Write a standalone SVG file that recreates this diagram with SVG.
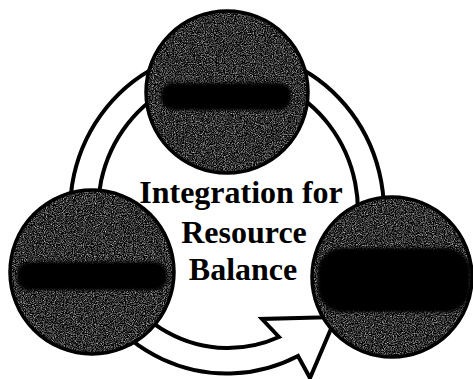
<svg xmlns="http://www.w3.org/2000/svg" width="473" height="379" viewBox="0 0 473 379">
  <defs>
    <style>
      .band { fill: #ffffff; stroke: #000000; stroke-width: 4; stroke-linejoin: miter; }
      .edge { fill: none; stroke: #000000; stroke-width: 3.5; }
      .core { fill: #000000; }
      .label { font-family: "Liberation Serif", "Times New Roman", serif; font-weight: bold; font-size: 32px; fill: #000000; text-anchor: middle; }
    </style>
    <filter id="tex" x="0" y="0" width="100%" height="100%" color-interpolation-filters="sRGB">
      <feTurbulence type="fractalNoise" baseFrequency="0.9" numOctaves="2" seed="7" result="n"/>
      <feColorMatrix in="n" type="matrix" values="0.33 0.33 0.33 0 0  0.33 0.33 0.33 0 0  0.33 0.33 0.33 0 0  0 0 0 0 1" result="g"/>
      <feComponentTransfer in="g" result="c">
        <feFuncR type="linear" slope="2.6" intercept="-1.1"/>
        <feFuncG type="linear" slope="2.6" intercept="-1.1"/>
        <feFuncB type="linear" slope="2.6" intercept="-1.1"/>
      </feComponentTransfer>
      <feComposite in="c" in2="SourceGraphic" operator="in"/>
    </filter>
    <filter id="soft" x="-20%" y="-50%" width="140%" height="200%">
      <feGaussianBlur stdDeviation="1.5"/>
    </filter>
  </defs>

  <g id="connectors">
    <path id="cycle-arrow" class="band" d="M 381.5,240 A 157 162 0 1 0 298,356 L 310,378 L 336,317 L 262,319 L 279,337 A 130 137 0 1 1 355,240 Z"/>
  </g>

  <g id="node-top">
    <circle cx="227" cy="92" r="82" fill="#000" filter="url(#tex)"/>
    <rect class="core" x="161" y="83" width="130" height="27" rx="12" filter="url(#soft)"/>
    <circle class="edge" cx="227" cy="92" r="81"/>
  </g>

  <g id="node-left">
    <circle cx="92" cy="272" r="83" fill="#000" filter="url(#tex)"/>
    <rect class="core" x="17" y="262" width="150" height="28" rx="12" filter="url(#soft)"/>
    <circle class="edge" cx="92" cy="272" r="82"/>
  </g>

  <g id="node-right">
    <circle cx="392" cy="277" r="81" fill="#000" filter="url(#tex)"/>
    <rect class="core" x="318" y="248" width="152" height="64" rx="24" filter="url(#soft)"/>
    <circle class="edge" cx="392" cy="277" r="80"/>
  </g>

  <g id="center-label">
    <text class="label" x="241" y="203">Integration for</text>
    <text class="label" x="244" y="243">Resource</text>
    <text class="label" x="243" y="280">Balance</text>
  </g>
</svg>
